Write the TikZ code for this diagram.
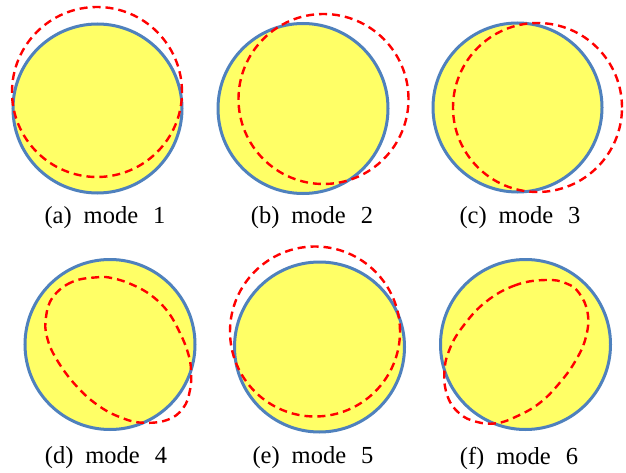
\documentclass[tikz,border=0pt]{standalone}
\usepackage{fontspec}
\setmainfont{Liberation Serif}
\definecolor{discblue}{RGB}{79,129,189}
\definecolor{discyellow}{RGB}{255,255,102}
\begin{document}
\begin{tikzpicture}[x=1pt,y=-1pt,
  disc/.style={draw=discblue, line width=3pt, fill=discyellow},
  modeline/.style={draw=red, line width=2.4pt, dash pattern=on 8pt off 5pt},
  lbl/.style={font=\fontsize{24.5}{26}\selectfont, inner sep=0pt}]
\useasboundingbox (0,0) rectangle (626,473);
\fill[white] (0,0) rectangle (626,473);
% (a)
\draw[disc] (97.5,108.5) circle[radius=84.5pt];
\draw[modeline] (97,92) circle[radius=85pt];
\node[lbl] (la) at (105,218) {(a)\hspace{12pt}mode\hspace{15pt}1};
% (b)
\draw[disc] (303,108.5) circle[radius=85pt];
\draw[modeline] (323.5,99) circle[radius=85pt];
\node[lbl] (lb) at (312,218) {(b)\hspace{12pt}mode\hspace{15pt}2};
% (c)
\draw[disc] (517.5,107.5) circle[radius=84.5pt];
\draw[modeline] (537.5,107.5) circle[radius=84.5pt];
\node[lbl] (lc) at (520,218) {(c)\hspace{12pt}mode\hspace{15pt}3};
% (d)
\draw[disc] (110,344.5) circle[radius=85pt];
\draw[modeline] plot[smooth cycle, tension=0.7] coordinates {
  (97,277.3) (72,282) (53,297) (46,317) (47,337) (57,360) (77,386.7)
  (100,406.7) (123,418.3) (143,422.7) (167,420) (183,408.3) (190,390)
  (191,370) (188,353) (180,333) (168,312) (152,296) (133,285) (113,278.3)};
\node[lbl] (ld) at (106,458) {(d)\hspace{12pt}mode\hspace{15pt}4};
% (e)
\draw[disc] (319.5,347) circle[radius=85pt];
\draw[modeline] (315,331.5) circle[radius=85pt];
\node[lbl] (le) at (313,458) {(e)\hspace{12pt}mode\hspace{15pt}5};
% (f)
\draw[disc] (525.5,344.5) circle[radius=85pt];
\draw[modeline] plot[smooth cycle, tension=0.7] coordinates {
  (546,280) (516,285) (486,301.7) (462.7,326.7) (449.3,350) (444.3,373.3)
  (447.7,396.7) (459.3,413.3) (476,421.7) (496,423.3) (516,416.7)
  (539.3,403.3) (559.3,383.3) (576,360) (586,336.7) (587.7,313.3)
  (579.3,293.3) (566,283.3)};
\node[lbl] (lf) at (519,458) {(f)\hspace{12pt}mode\hspace{15pt}6};
\end{tikzpicture}
\end{document}
